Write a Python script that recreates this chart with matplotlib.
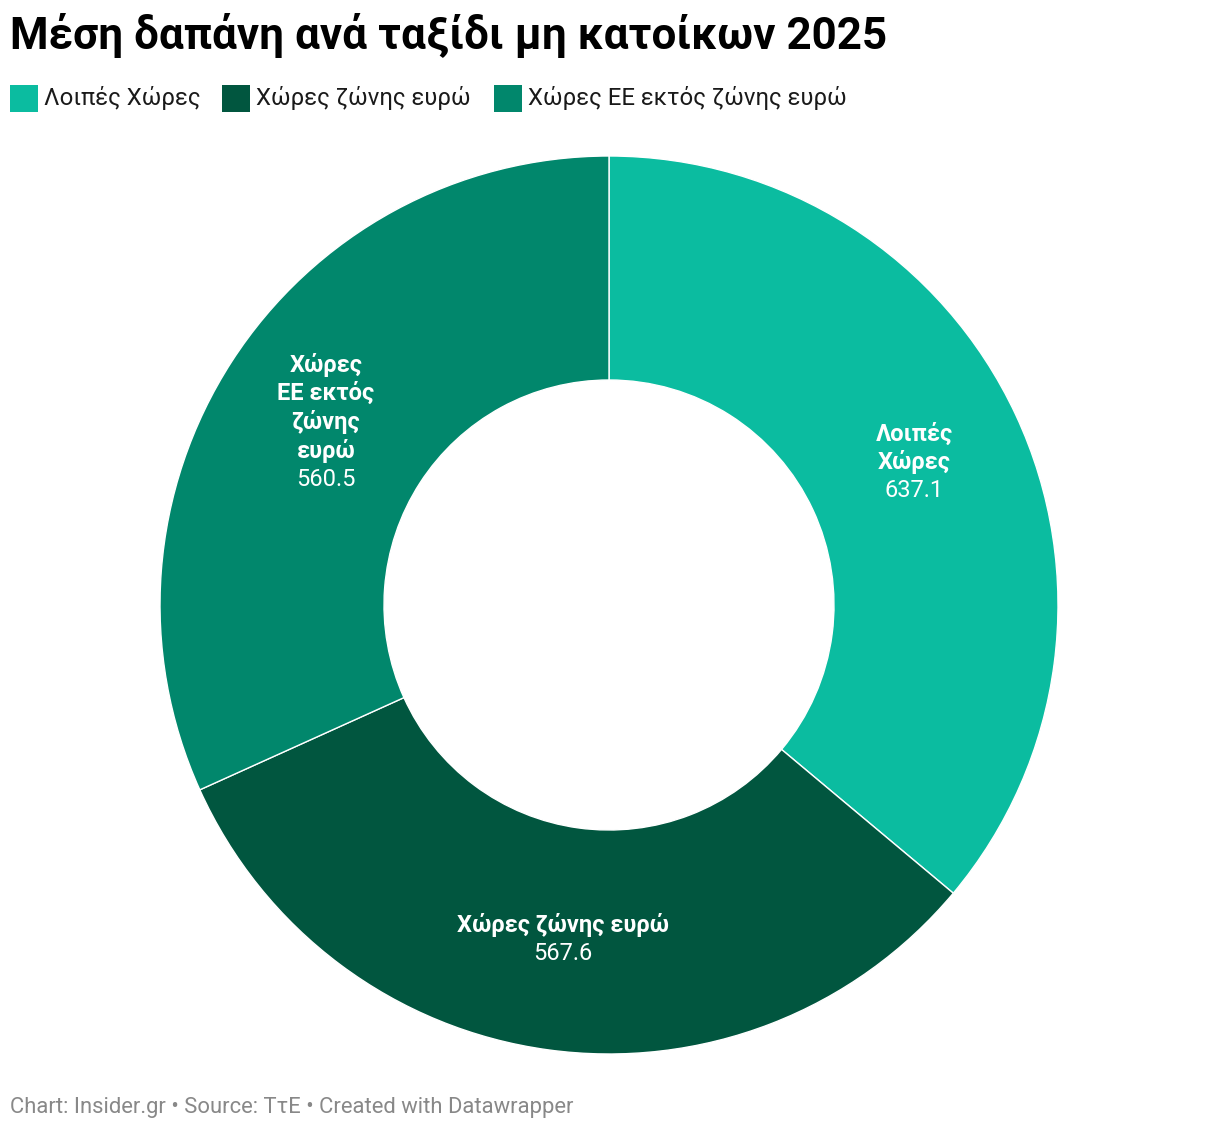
import numpy as np
import matplotlib
matplotlib.use("Agg")
import matplotlib.pyplot as plt

categories = ["Λοιπές Χώρες", "Χώρες ζώνης ευρώ", "Χώρες ΕΕ εκτός ζώνης ευρώ"]
values = [637.1, 567.6, 560.5]
label_lines = ["Λοιπές\nΧώρες", "Χώρες ζώνης ευρώ", "Χώρες\nΕΕ εκτός\nζώνης\nευρώ"]
colors = ["#0BBCA0", "#01563F", "#01876C"]

title = "Μέση δαπάνη ανά ταξίδι μη κατοίκων 2025"
footer = "Chart: Insider.gr • Source: TτE • Created with Datawrapper"

plt.rcParams['font.family'] = ['Roboto', 'DejaVu Sans']

W, H = 1220, 1132
fig = plt.figure(figsize=(W / 100, H / 100), dpi=100)

# donut axes
cx, cy, R = 609, 605, 449
half = 460
ax = fig.add_axes([(cx - half) / W, (H - cy - half) / H, 2 * half / W, 2 * half / H])

inner = 225 / R
width = 1 - inner
ax.pie(values, colors=colors, startangle=90, counterclock=False, radius=1,
       wedgeprops=dict(width=width, edgecolor='white', linewidth=1))
lim = half / R
ax.set_xlim(-lim, lim)
ax.set_ylim(-lim, lim)
ax.set_aspect('equal')
ax.axis('off')

total = sum(values)
cum = 0
rmid = (1 + inner) / 2
for v, lab in zip(values, label_lines):
    mid = (cum + v / 2) / total
    cum += v
    ang = np.deg2rad(90 - 360 * mid)
    x, y = rmid * np.cos(ang), rmid * np.sin(ang)
    nl = lab.count("\n") + 1
    lh = 28.5 / R
    n = nl + 1
    top = y + (n - 1) * lh / 2
    for i, line in enumerate(lab.split("\n")):
        ax.text(x, top - i * lh, line, ha='center', va='center', color='white',
                fontsize=17, fontweight='bold')
    ax.text(x, top - nl * lh, f"{v:.1f}", ha='center', va='center', color='white',
            fontsize=17)

# title
fig.text(10 / W, 1 - 36 / H, title, fontsize=31.7, fontweight='bold', color='#000000',
         ha='left', va='center')

# legend
leg_x = [10, 222, 494]
for xs, c, name in zip(leg_x, colors, categories):
    fig.patches.append(matplotlib.patches.Rectangle(
        (xs / W, 1 - 112 / H), 28 / W, 27 / H, transform=fig.transFigure,
        facecolor=c, edgecolor='none'))
    fig.text((xs + 34) / W, 1 - 98 / H, name, fontsize=17.2, color='#1a1a1a',
             ha='left', va='center')

# footer
fig.text(10 / W, 1 - 1108 / H, footer, fontsize=15.85, color='#888888',
         ha='left', va='center')

fig.savefig("out.png", dpi=100, facecolor='white')
